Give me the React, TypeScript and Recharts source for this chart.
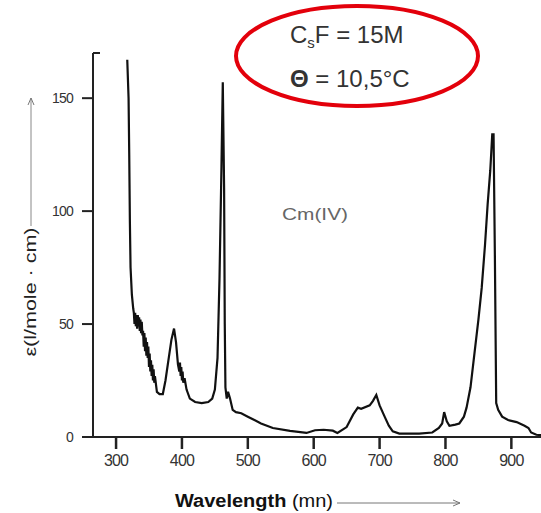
import React from 'react';
import { LineChart, Line, XAxis, YAxis } from 'recharts';

// wavelength (nm) and molar absorptivity
const wavelength = [
  317, 319, 320, 321, 322, 324, 326, 327, 328, 329, 330, 331, 332, 333, 334, 335, 336, 337, 338, 339,
  340, 341, 342, 343, 344, 345, 346, 347, 348, 349, 350, 351, 352, 353, 354, 355, 356, 357, 358, 359,
  362, 366, 371, 375, 380, 384, 388, 391, 394, 396, 397, 398, 399, 400, 401, 402, 404, 407, 412, 420,
  430, 440, 446, 450, 454, 457, 460, 462, 464, 465, 466, 468, 470, 473, 477, 482, 490, 500, 510, 520,
  538, 564, 589, 602, 615, 629, 636, 650, 660, 667, 672, 685, 690, 695, 700, 708, 714, 720, 730, 760,
  780, 790, 795, 798, 802, 806, 815, 821, 828, 832, 838, 844, 850, 855, 860, 864, 868, 871, 873, 875,
  877, 880, 886, 895, 908, 920, 926, 930, 938, 945,
];
const epsilon = [
  167, 150, 125, 95, 75, 63, 57, 55, 50, 55, 49, 54, 48, 54, 49, 53, 47, 52, 46, 51,
  45, 47, 40, 46, 38, 44, 36, 42, 35, 40, 31, 37, 29, 34, 27, 32, 25, 30, 24, 27,
  20, 19, 19, 25, 35, 43, 48, 42, 32, 29, 33, 27, 31, 25, 29, 24, 26, 21, 17, 15.5,
  15, 15.5, 17, 21, 35, 70, 120, 157, 110, 50, 22, 17, 20, 17, 12, 11, 10.5, 9, 7.5, 6,
  4, 2.7, 1.8, 3, 3.2, 2.8, 1.8, 4.4, 10, 13, 12.5, 14, 16, 18.6, 14, 8.8, 5, 2.5, 1.5, 1.5,
  2, 4, 6, 11, 7, 5, 5.5, 6, 9, 13, 22, 37, 52, 66, 85, 103, 118, 134, 134, 80,
  15, 12, 9, 7.5, 6.6, 5, 4, 2, 1, 0.8,
];
const xTicks = [300, 400, 500, 600, 700, 800, 900];
const yTicks = [0, 50, 100, 150];

const data = wavelength.map((wl, i) => ({ wl, eps: epsilon[i] }));

export default function App() {
  return (
    <div style={{ position: 'absolute', left: 0, top: 0, width: 541, height: 513, background: '#fff' }}>
      <LineChart width={541} height={513} data={data} margin={{ top: 53, right: 0, left: 0, bottom: 0 }}>
        <XAxis
          type="number"
          dataKey="wl"
          domain={[265, 945]}
          ticks={xTicks}
          allowDataOverflow
          height={76}
          axisLine={{ stroke: '#222', strokeWidth: 2 }}
          tickLine={{ stroke: '#222', strokeWidth: 2.5 }}
          tickSize={12}
          tickMargin={6}
          tick={{ fill: '#333', fontSize: 16, fontFamily: 'Arial, Liberation Sans, sans-serif', letterSpacing: -0.8 }}
        />
        <YAxis
          type="number"
          domain={[0, 170]}
          ticks={yTicks}
          width={93}
          axisLine={{ stroke: '#222', strokeWidth: 2 }}
          tickLine={{ stroke: '#222', strokeWidth: 2 }}
          tickSize={11}
          tickMargin={9}
          tick={{ fill: '#333', fontSize: 14, fontFamily: 'Arial, Liberation Sans, sans-serif', letterSpacing: -0.8 }}
        />
        <Line
          type="linear"
          dataKey="eps"
          stroke="#111"
          strokeWidth={2.2}
          dot={false}
          isAnimationActive={false}
        />
      </LineChart>
      <svg
        width={541}
        height={513}
        style={{ position: 'absolute', left: 0, top: 0, pointerEvents: 'none' }}
        fontFamily="Arial, Liberation Sans, sans-serif"
      >
        <defs>
          <marker id="arr" markerWidth="8" markerHeight="8" refX="7" refY="4" orient="auto">
            <path d="M0,1 L7,4 L0,7" fill="none" stroke="#777" strokeWidth="1" />
          </marker>
        </defs>
        {/* little serif at the top of the y axis */}
        <line x1={93} y1={53} x2={100} y2={53} stroke="#222" strokeWidth={2} />

        {/* y axis title + arrow */}
        <text
          transform="translate(36,292) rotate(-90)"
          textAnchor="middle"
          fontSize={16}
          fill="#222"
          textLength={129}
          lengthAdjust="spacingAndGlyphs"
        >
          ε(l/mole · cm)
        </text>
        <line x1={31} y1={226} x2={31} y2={98} stroke="#888" strokeWidth={1} markerEnd="url(#arr)" />

        {/* x axis title + arrow */}
        <text x={175} y={507} fontSize={18} fill="#111" textLength={158} lengthAdjust="spacingAndGlyphs">
          <tspan fontWeight="bold">Wavelength</tspan> (mn)
        </text>
        <line x1={337} y1={503} x2={460} y2={503} stroke="#777" strokeWidth={1} markerEnd="url(#arr)" />

        {/* species label */}
        <text x={282} y={220} fontSize={16} fill="#666" textLength={66} lengthAdjust="spacingAndGlyphs">
          Cm(IV)
        </text>

        {/* red circled conditions */}
        <ellipse cx={357} cy={56} rx={121} ry={50} fill="none" stroke="#e3000b" strokeWidth={4} />
        <text x={290} y={43} fontSize={24} fill="#333">
          C<tspan fontSize={15} dy={5}>s</tspan>
          <tspan dy={-5}>F = 15M</tspan>
        </text>
        <text x={290} y={87} fontSize={24} fill="#333">
          <tspan fontWeight="bold">Θ</tspan> = 10,5°C
        </text>
      </svg>
    </div>
  );
}
